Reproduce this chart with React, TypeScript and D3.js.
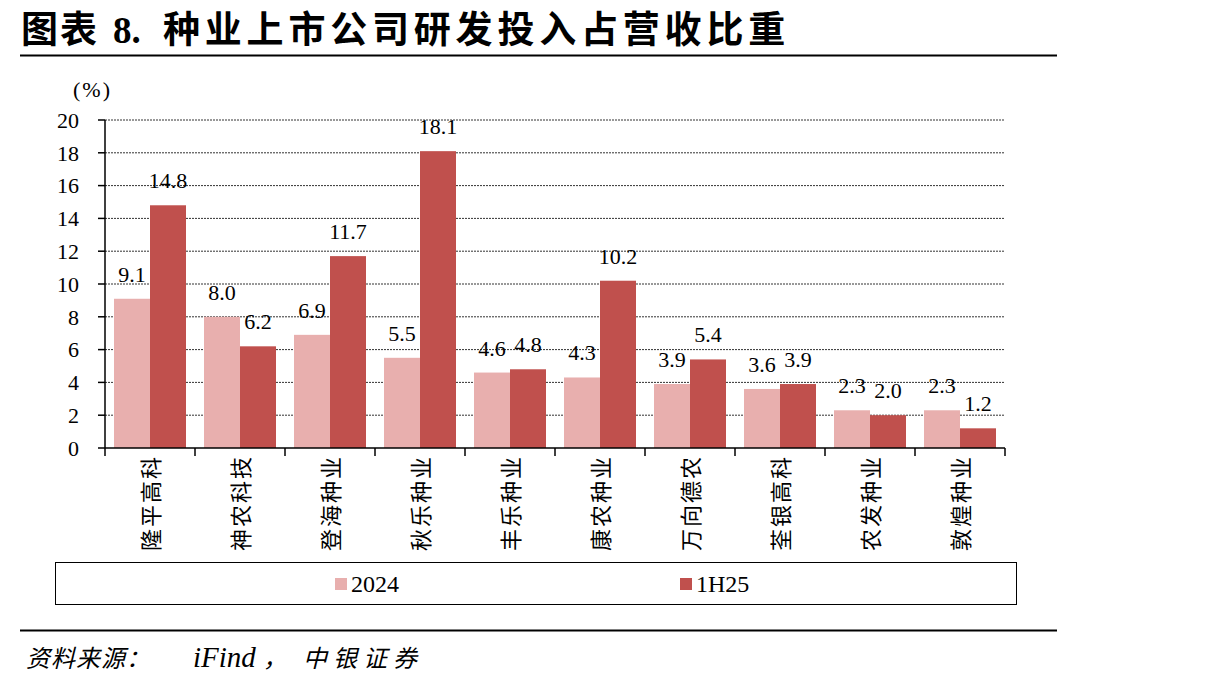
import React from "react";
import * as d3 from "d3";

const categories = ["隆平高科", "神农科技", "登海种业", "秋乐种业", "丰乐种业", "康农种业", "万向德农", "荃银高科", "农发种业", "敦煌种业"];
const series2024 = [9.1, 8.0, 6.9, 5.5, 4.6, 4.3, 3.9, 3.6, 2.3, 2.3];
const series1H25 = [14.8, 6.2, 11.7, 18.1, 4.8, 10.2, 5.4, 3.9, 2.0, 1.2];
const seriesNames = ["2024", "1H25"];
const yTicks = [0, 2, 4, 6, 8, 10, 12, 14, 16, 18, 20];

const colors = ["#E8AFAE", "#C0504D"];
const serif = "'Liberation Serif', 'Times New Roman', serif";
const cjk = "'Noto Sans CJK SC', sans-serif";

const plot = { left: 105, right: 1005, top: 120, bottom: 448 };

export default function App() {
  const x = d3.scaleBand<string>().domain(categories).range([plot.left, plot.right]);
  // two bars per category, 9px gap either side
  const inner = d3
    .scaleBand<string>()
    .domain(seriesNames)
    .range([0, x.bandwidth()])
    .paddingOuter(0.25);
  const y = d3.scaleLinear().domain([0, 20]).range([plot.bottom, plot.top]);

  const data = [series2024, series1H25];

  return (
    <svg width={1211} height={689} style={{ position: "absolute", left: 0, top: 0, background: "#fff" }}>
      <text y={43} fontFamily={cjk} fontWeight="bold" fontSize={37} fill="#000">
        <tspan x={21} letterSpacing={2}>图表</tspan>
        <tspan x={113} fontFamily={serif}>8.</tspan>
        <tspan x={163} letterSpacing={4.8}>种业上市公司研发投入占营收比重</tspan>
      </text>
      <line x1={20} x2={1057} y1={55.5} y2={55.5} stroke="#000" strokeWidth={2} />

      <text x={73} y={97} fontFamily={serif} fontSize={22} letterSpacing={2}>(%)</text>

      {/* gridlines and y ticks */}
      {yTicks.map((t) => (
        <g key={t}>
          {t > 0 && (
            <line x1={plot.left} x2={plot.right} y1={y(t)} y2={y(t)} stroke="#333" strokeWidth={1} strokeDasharray="2,1" />
          )}
          <line x1={plot.left - 7} x2={plot.left} y1={y(t)} y2={y(t)} stroke="#000" strokeWidth={1.5} />
          <text x={79} y={y(t)} dy="0.35em" textAnchor="end" fontFamily={serif} fontSize={22}>
            {t}
          </text>
        </g>
      ))}

      {/* bars */}
      {data.map((vals, si) =>
        vals.map((v, i) => {
          const bx = (x(categories[i]) as number) + (inner(seriesNames[si]) as number);
          return (
            <g key={`${si}-${i}`}>
              <rect x={bx} y={y(v)} width={inner.bandwidth()} height={y(0) - y(v)} fill={colors[si]} />
              <text
                x={bx + inner.bandwidth() / 2}
                y={y(v) - 17}
                textAnchor="middle"
                fontFamily={serif}
                fontSize={22}
              >
                {v.toFixed(1)}
              </text>
            </g>
          );
        })
      )}

      {/* axes */}
      <line x1={plot.left} x2={plot.left} y1={plot.top} y2={plot.bottom} stroke="#000" strokeWidth={1.5} />
      <line x1={plot.left} x2={plot.right} y1={plot.bottom} y2={plot.bottom} stroke="#000" strokeWidth={1.5} />
      {categories.concat([""]).map((c, i) => {
        const tx = plot.left + i * x.step();
        return <line key={i} x1={tx} x2={tx} y1={plot.bottom} y2={plot.bottom + 8} stroke="#000" strokeWidth={1.5} />;
      })}
      {categories.map((c) => {
        const cx = (x(c) as number) + x.bandwidth() / 2;
        return (
          <text
            key={c}
            transform={`translate(${cx + 9},455) rotate(-90)`}
            textAnchor="end"
            fontFamily={cjk}
            fontSize={22}
            letterSpacing={2}
          >
            {c}
          </text>
        );
      })}

      {/* legend */}
      <rect x={55.5} y={562.5} width={961} height={42} fill="none" stroke="#000" strokeWidth={1} />
      <rect x={335} y={578} width={12} height={12} fill={colors[0]} />
      <text x={351} y={592} fontFamily={serif} fontSize={24}>2024</text>
      <rect x={680} y={578} width={12} height={12} fill={colors[1]} />
      <text x={696} y={592} fontFamily={serif} fontSize={24}>1H25</text>

      <line x1={20} x2={1057} y1={630.5} y2={630.5} stroke="#000" strokeWidth={2} />
      <text y={667} fontFamily={cjk} fontStyle="italic" fontSize={24}>
        <tspan x={26} letterSpacing={1}>资料来源：</tspan>
        <tspan x={193} fontFamily={serif} fontSize={29}>iFind</tspan>
        <tspan x={263}>，</tspan>
        <tspan x={303} letterSpacing={6}>中银证券</tspan>
      </text>
    </svg>
  );
}
